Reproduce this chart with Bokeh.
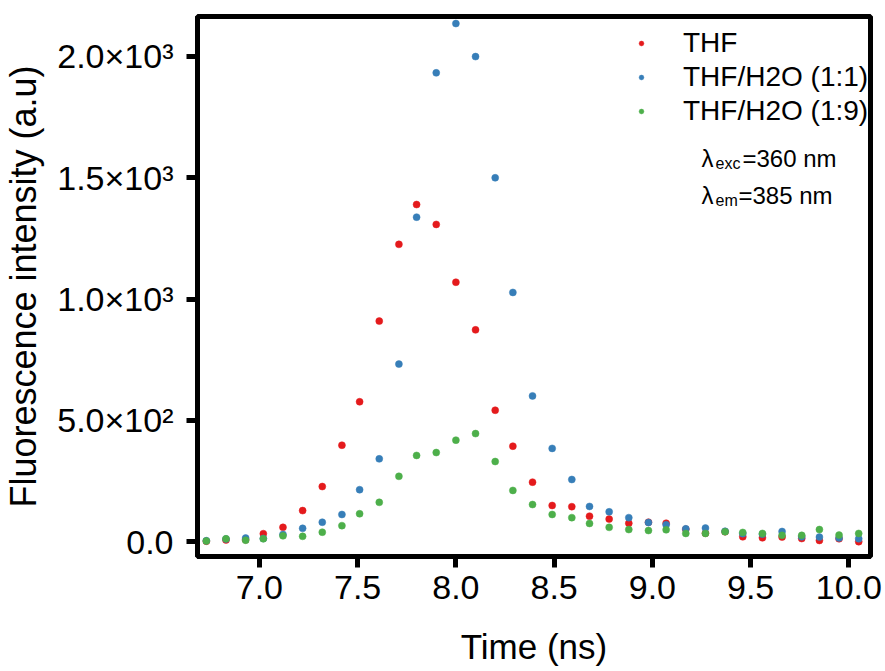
from bokeh.plotting import figure
from bokeh.models import Range1d, FixedTicker, Legend, LegendItem, Label, PrintfTickFormatter
from bokeh.embed import file_html
from bokeh.resources import INLINE

# ---- data ----
time_ns = [6.73, 6.83, 6.93, 7.02, 7.12, 7.22, 7.32, 7.42, 7.51, 7.61, 7.71, 7.80,
           7.90, 8.00, 8.10, 8.20, 8.29, 8.39, 8.49, 8.59, 8.68, 8.78, 8.88, 8.98,
           9.07, 9.17, 9.27, 9.37, 9.46, 9.56, 9.66, 9.76, 9.85, 9.95, 10.05]
thf = [3, 8, 9, 34, 60, 129, 228, 398, 577, 909, 1225, 1389, 1307, 1069, 873, 542,
       394, 246, 150, 145, 106, 94, 77, 81, 77, 52, 36, 42, 21, 17, 20, 14, 6, 13, 1]
thf_h2o_1_1 = [5, 12, 16, 14, 31, 56, 81, 113, 215, 342, 732, 1337, 1931, 2134, 1998,
               1499, 1027, 601, 385, 257, 146, 124, 100, 80, 71, 54, 57, 44, 34, 32,
               43, 21, 20, 16, 13]
thf_h2o_1_9 = [4, 13, 7, 13, 25, 23, 40, 67, 116, 163, 270, 356, 368, 419, 446, 331,
               212, 154, 113, 100, 76, 60, 51, 47, 50, 35, 35, 42, 39, 35, 27, 27, 51,
               28, 35]
series_names = ["THF", "THF/H2O (1:1)", "THF/H2O (1:9)"]
series_colors = ["#E41A1C", "#377EB8", "#4DAF4A"]
x_ticks = [7.0, 7.5, 8.0, 8.5, 9.0, 9.5, 10.0]
y_ticks = [0, 500, 1000, 1500, 2000]
y_tick_labels = ["0.0", "5.0\u00d710\u00b2", "1.0\u00d710\u00b3", "1.5\u00d710\u00b3", "2.0\u00d710\u00b3"]

FONT = "Liberation Sans"

p = figure(width=885, height=671, output_backend="svg", toolbar_location=None,
           x_range=Range1d(6.685, 10.11), y_range=Range1d(-60, 2163),
           min_border_left=196, min_border_right=15, min_border_top=16,
           min_border_bottom=115, background_fill_color="white",
           border_fill_color="white")

p.grid.visible = False
p.outline_line_color = "black"
p.outline_line_width = 5
p.outline_line_alpha = 1.0

renderers = []
for ys, c in zip([thf, thf_h2o_1_1, thf_h2o_1_9], series_colors):
    r = p.scatter(time_ns, ys, size=7, fill_color=c, line_color=c, line_width=0.5)
    renderers.append(r)

for ax in (p.xaxis[0], p.yaxis[0]):
    ax.axis_line_width = 5
    ax.axis_line_color = "black"
    ax.major_tick_line_width = 5
    ax.major_tick_line_color = "black"
    ax.major_tick_out = 11
    ax.major_tick_in = 0
    ax.minor_tick_line_color = None
    ax.major_label_text_font = FONT
    ax.major_label_text_color = "black"
    ax.axis_label_text_font = FONT
    ax.axis_label_text_font_style = "normal"
    ax.axis_label_text_color = "black"
    ax.axis_label_text_font_size = "35px"

p.xaxis.ticker = FixedTicker(ticks=x_ticks)
p.xaxis.formatter = PrintfTickFormatter(format="%.1f")
p.xaxis.major_label_text_font_size = "34px"
p.xaxis.major_label_standoff = 8
p.xaxis.axis_label = "Time (ns)"
p.xaxis.axis_label_standoff = 25

p.yaxis.ticker = FixedTicker(ticks=y_ticks)
p.yaxis.major_label_overrides = {t: s for t, s in zip(y_ticks, y_tick_labels)}
p.yaxis.major_label_text_font_size = "34px"
p.yaxis.major_label_standoff = 13
p.yaxis.axis_label = "Fluorescence intensity (a.u)"
p.yaxis.axis_label_text_font_size = "36px"
p.yaxis.axis_label_standoff = 10

legend = Legend(items=[LegendItem(label=n, renderers=[r]) for n, r in zip(series_names, renderers)],
                location=(438, 428), orientation="vertical",
                border_line_color=None, background_fill_alpha=0.0,
                label_text_font=FONT, label_text_font_size="28px",
                label_text_color="black", glyph_width=12, glyph_height=12,
                label_height=34, label_standoff=36, spacing=0, padding=4, margin=0)
p.add_layout(legend)

# lambda annotations
ann = [
    ("\u03bb", 504, 398, "24px"), ("exc", 518, 393, "16px"), ("=360 nm", 545, 398, "24px"),
    ("\u03bb", 504, 361, "24px"), ("em", 518, 356, "16px"), ("=385 nm", 541, 361, "24px"),
]
for txt, sx, sy, fs in ann:
    p.add_layout(Label(x=sx, y=sy, x_units="screen", y_units="screen", text=txt,
                       text_font=FONT, text_font_size=fs, text_color="black",
                       text_baseline="alphabetic", text_align="left"))

open("out.html", "w").write(file_html(p, INLINE))
